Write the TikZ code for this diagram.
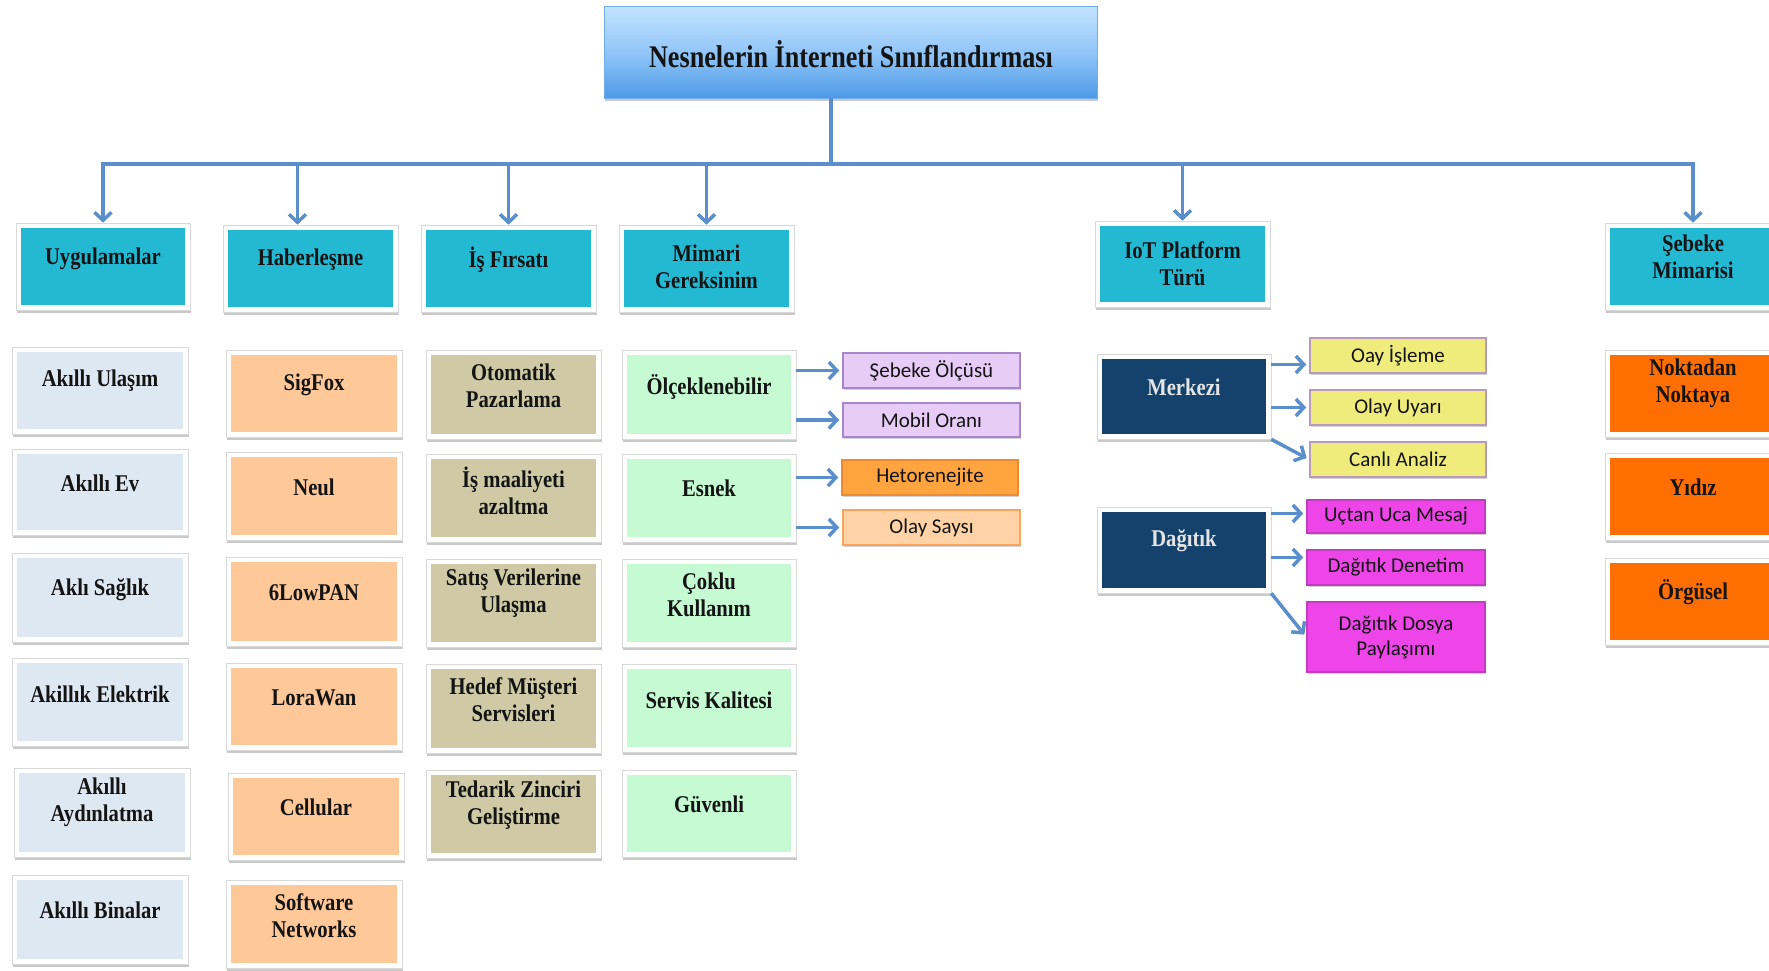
\documentclass[tikz,border=0pt]{standalone}
\usepackage{fontspec}
\newfontfamily\bserif[FakeStretch=0.86]{Liberation Serif}
\newfontfamily\tserif[FakeStretch=0.83]{Liberation Serif}
\newfontfamily\carlito{Carlito}
\usetikzlibrary{arrows.meta,fit,shadows}
\definecolor{lnblue}{HTML}{5B8FCC}
\definecolor{cyanbox}{HTML}{23B9D3}
\definecolor{lb}{HTML}{DEE8F3}
\definecolor{peach}{HTML}{FFC899}
\definecolor{khaki}{HTML}{CFCAA5}
\definecolor{mint}{HTML}{C6FAD2}
\definecolor{lav}{HTML}{E6CCF6}
\definecolor{lavb}{HTML}{A786CC}
\definecolor{hor}{HTML}{FFA43F}
\definecolor{horb}{HTML}{F08A30}
\definecolor{lor}{HTML}{FFD3A6}
\definecolor{lorb}{HTML}{F7A45E}
\definecolor{navy}{HTML}{15426C}
\definecolor{yel}{HTML}{EFEC7C}
\definecolor{yelb}{HTML}{B89ABC}
\definecolor{mag}{HTML}{EE45E9}
\definecolor{magb}{HTML}{C23CC0}
\definecolor{rorg}{HTML}{FF6E00}
\definecolor{ttop}{HTML}{C4E4FF}
\definecolor{tmid}{HTML}{92C6F8}
\definecolor{tbot}{HTML}{4E9AE8}
\definecolor{ink}{HTML}{141414}
\tikzset{
  conn/.style={draw=lnblue, line width=3.5pt},
  arr/.style={conn, -{Straight Barb[length=8pt,width=17pt]}},
  cardframe/.style={rectangle, fill=white, draw=black!15, line width=0.6pt, inner sep=5pt,
    drop shadow={shadow xshift=0.5pt, shadow yshift=-3pt, opacity=0.3, fill=black!70}},
  btxt/.style={font=\bserif\bfseries\fontsize{24}{27}\selectfont, align=center, inner sep=0pt, text=ink},
  sub/.style={rectangle, line width=1.5pt, inner sep=0pt,
    drop shadow={shadow xshift=0.5pt, shadow yshift=-2pt, opacity=0.25, fill=black!70}},
  stxt/.style={align=center, text=ink, inner sep=0pt, font=\carlito\fontsize{21}{25}\selectfont},
  titlebox/.style={rectangle, inner sep=0pt, top color=ttop, bottom color=tbot, middle color=tmid,
    draw=tbot!80!white, line width=0.6pt,
    drop shadow={shadow xshift=0.5pt, shadow yshift=-3pt, opacity=0.3, fill=black!70}},
  ttxt/.style={font=\tserif\bfseries\fontsize{31.5}{36}\selectfont, text=ink, inner sep=0pt},
}
\newcommand\card[8]{%
  \node[cardframe, fit={(#3,#4) (#5,#6)}] (#1) {};
  \fill[#2] (#3,#4) rectangle (#5,#6);
  \node[btxt] at ({(#3+#5)/2},{#7+2.5}) {#8};}
\newcommand\subbox[7]{%
  \node[sub, #2, fit={(#3,#4) (#5,#6)}] (#1) {};
  \node[stxt] at ({(#3+#5)/2},{(#4+#6)/2}) {#7};}
\begin{document}
\begin{tikzpicture}[x=1pt,y=-1pt]
\useasboundingbox (0,0) rectangle (1769,970);
\clip (0,0) rectangle (1769,970);
% title
\node[titlebox, fit={(604,6) (1097,98)}] (title) {};
\node[ttxt] at (851,54) {Nesnelerin İnterneti Sınıflandırması};
% level 1
\card{uyg}{cyanbox}{21}{228}{185}{305}{256}{Uygulamalar}
\card{hab}{cyanbox}{228}{230}{393}{307}{257}{Haberleşme}
\card{isf}{cyanbox}{426}{230}{591}{307}{257}{İş Fırsatı}
\card{mim}{cyanbox}{624}{230}{789}{307}{264}{Mimari\\Gereksinim}
\card{iot}{cyanbox}{1100}{226}{1265}{302}{261}{IoT Platform\\Türü}
\card{seb}{cyanbox}{1610}{228}{1776}{305}{254}{Şebeke\\Mimarisi}
% column 1
\card{a1}{lb}{17}{352}{183}{429}{378}{Akıllı Ulaşım}
\card{a2}{lb}{17}{454}{183}{530}{481}{Akıllı Ev}
\card{a3}{lb}{17}{558}{183}{637}{587}{Aklı Sağlık}
\card{a4}{lb}{17}{663}{183}{741}{692}{Akillık Elektrik}
\card{a5}{lb}{19}{773}{185}{852}{800}{Akıllı\\Aydınlatma}
\card{a6}{lb}{17}{880}{183}{959}{908}{Akıllı Binalar}
% column 2
\card{b1}{peach}{231}{355}{397}{432}{382}{SigFox}
\card{b2}{peach}{231}{457}{397}{535}{485}{Neul}
\card{b3}{peach}{231}{562}{397}{641}{590}{6LowPAN}
\card{b4}{peach}{231}{668}{397}{745}{695}{LoraWan}
\card{b5}{peach}{233}{778}{399}{855}{805}{Cellular}
\card{b6}{peach}{231}{885}{397}{963}{913}{Software\\Networks}
% column 3
\card{c1}{khaki}{431}{355}{596}{434}{383}{Otomatik\\Pazarlama}
\card{c2}{khaki}{431}{459}{596}{537}{488}{İş maaliyeti\\azaltma}
\card{c3}{khaki}{431}{564}{596}{642}{591}{Satış Verilerine\\Ulaşma}
\card{c4}{khaki}{431}{669}{596}{748}{697}{Hedef Müşteri\\Servisleri}
\card{c5}{khaki}{431}{775}{596}{853}{803}{Tedarik Zinciri\\Geliştirme}
% column 4
\card{olc}{mint}{627}{355}{791}{434}{384}{Ölçeklenebilir}
\card{esn}{mint}{627}{459}{791}{537}{486}{Esnek}
\card{d3}{mint}{627}{564}{791}{642}{592}{Çoklu\\Kullanım}
\card{d4}{mint}{627}{669}{791}{747}{698}{Servis Kalitesi}
\card{d5}{mint}{627}{775}{791}{852}{802}{Güvenli}
% sub boxes of column 4
\subbox{s1}{fill=lav, draw=lavb}{843}{353}{1020}{388}{Şebeke Ölçüsü}
\subbox{s2}{fill=lav, draw=lavb}{843}{403}{1020}{437}{Mobil Oranı}
\subbox{s3}{fill=hor, draw=horb}{842}{460}{1018}{495}{Hetorenejite}
\subbox{s4}{fill=lor, draw=lorb}{843}{510}{1020}{545}{Olay Saysı}
% IoT
\card{mer}{navy}{1102}{359}{1266}{434}{385}{\color{white!90!black}Merkezi}
\card{dag}{navy}{1102}{512}{1266}{588}{538}{\color{white!90!black}Dağıtık}
\subbox{m1}{fill=yel, draw=yelb}{1310}{338}{1486}{373}{Oay İşleme}
\subbox{m2}{fill=yel, draw=yelb}{1310}{390}{1486}{425}{Olay Uyarı}
\subbox{m3}{fill=yel, draw=yelb}{1310}{442}{1486}{477}{Canlı Analiz}
\subbox{g1}{fill=mag, draw=magb}{1307}{500}{1485}{533}{Uçtan Uca Mesaj}
\subbox{g2}{fill=mag, draw=magb}{1307}{550}{1485}{585}{Dağıtık Denetim}
\subbox{g3}{fill=mag, draw=magb}{1307}{602}{1485}{672}{Dağıtık Dosya\\Paylaşımı}
% Şebeke column
\card{e1}{rorg}{1610}{355}{1776}{432}{381}{Noktadan\\Noktaya}
\card{e2}{rorg}{1610}{458}{1776}{535}{485}{Yıdız}
\card{e3}{rorg}{1610}{563}{1776}{640}{590}{Örgüsel}
% main connectors
\coordinate (hub) at (831,164);
\draw[conn] (title.south -| hub) -- (hub);
\draw[arr] (hub) -| (uyg.north);
\draw[arr] (hub) -| (seb.north);
\coordinate (habtop) at ([xshift=-13pt]hab.north);
\draw[arr] (habtop |- hub) -- (habtop);
\draw[arr] (isf.north |- hub) -- (isf.north);
\draw[arr] (mim.north |- hub) -- (mim.north);
\draw[arr] (iot.north |- hub) -- (iot.north);
% column 4 sub arrows
\draw[arr, shorten >=3pt] (s1.west -| olc.east) -- (s1.west);
\draw[arr, shorten >=3pt] (s2.west -| olc.east) -- (s2.west);
\draw[arr, shorten >=3pt] (s3.west -| esn.east) -- (s3.west);
\draw[arr, shorten >=3pt] (s4.west -| esn.east) -- (s4.west);
% IoT arrows
\coordinate (m1p) at ([yshift=-9pt]m1.west);
\draw[arr, shorten >=3pt] (m1p -| mer.east) -- (m1p);
\draw[arr, shorten >=3pt] (m2.west -| mer.east) -- (m2.west);
\draw[arr, shorten >=3pt] (mer.south east) -- (m3.west);
\coordinate (g1p) at ([yshift=3pt]g1.west);
\draw[arr, shorten >=3pt] (g1p -| dag.east) -- (g1p);
\coordinate (g2p) at ([yshift=10pt]g2.west);
\draw[arr, shorten >=3pt] (g2p -| dag.east) -- (g2p);
\draw[arr, shorten >=3pt] (dag.south east) -- (g3.west);
\end{tikzpicture}
\end{document}
